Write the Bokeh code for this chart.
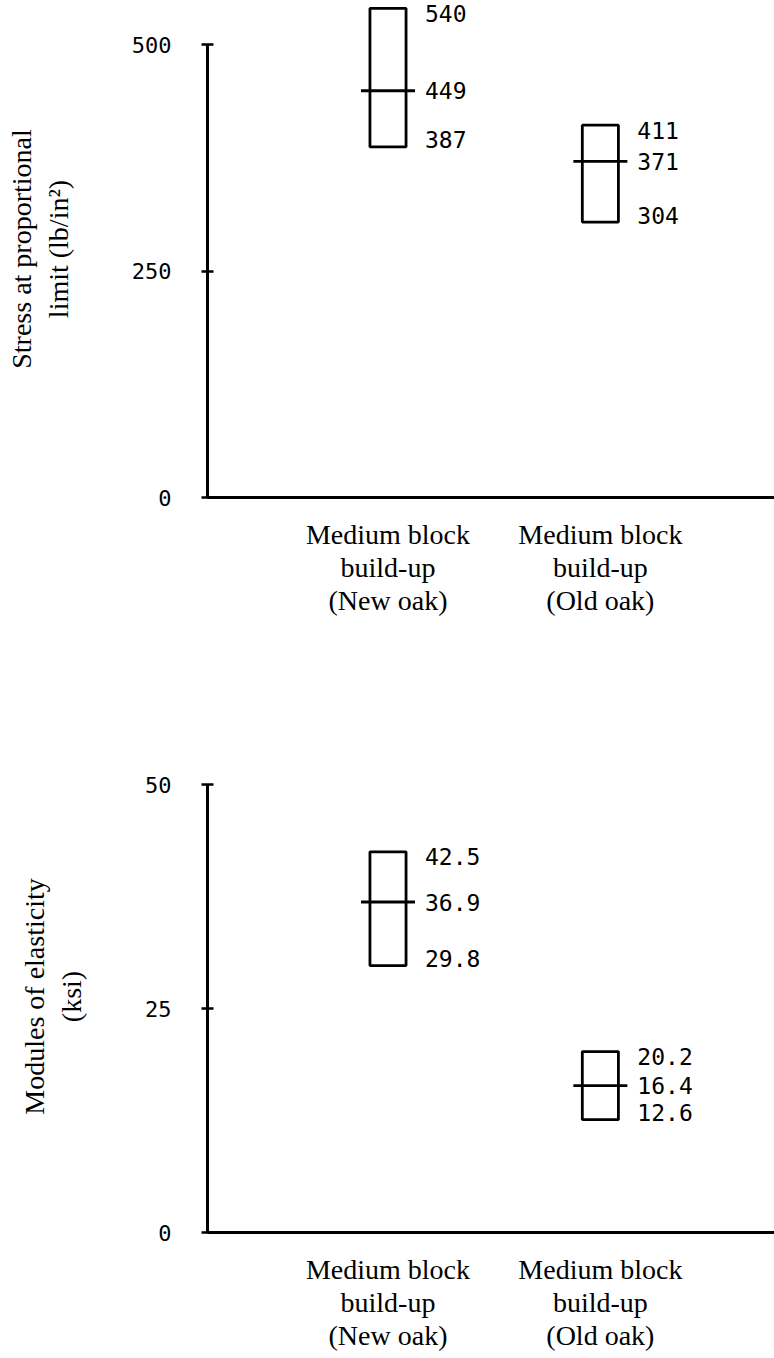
from bokeh.plotting import figure
from bokeh.layouts import column
from bokeh.models import Range1d, FixedTicker
from bokeh.core.properties import value
from bokeh.embed import file_html
from bokeh.resources import INLINE

# ---- data ----
categories = ["Medium block\nbuild-up\n(New oak)", "Medium block\nbuild-up\n(Old oak)"]
positions = [1, 2]

stress_high = [540, 411]
stress_mean = [449, 371]
stress_low = [387, 304]
stress_ticks = [0, 250, 500]

moe_high = [42.5, 20.2]
moe_mean = [36.9, 16.4]
moe_low = [29.8, 12.6]
moe_ticks = [0, 25, 50]

SERIF = "Liberation Serif"
MONO = "DejaVu Sans Mono"


def panel(height, ymax, ticks, high, mean, low, fmt, ylabel, border_top, border_bottom):
    p = figure(width=774, height=height,
               x_range=Range1d(0.15, 2.82), y_range=Range1d(0, ymax),
               output_backend="svg", toolbar_location=None,
               min_border_left=207, min_border_right=0,
               min_border_top=border_top, min_border_bottom=border_bottom)
    p.outline_line_color = None
    p.grid.visible = False
    p.background_fill_color = "white"
    p.border_fill_color = "white"

    # boxes
    p.vbar(x=positions, width=0.17, top=high, bottom=low,
           fill_color=None, line_color="black", line_width=2.8)
    # mean marks
    p.dash(x=positions, y=mean, size=54, line_color="black", line_width=2.8)

    # value labels
    for vals, yoff in ((high, 5), (mean, 0), (low, -7)):
        p.text(x=positions, y=vals, text=[fmt(v) for v in vals],
               x_offset=37, y_offset=yoff, text_align="left", text_baseline="middle",
               text_font=value(MONO), text_font_size="23px", text_color="black")

    # y axis
    ya = p.yaxis[0]
    ya.ticker = FixedTicker(ticks=ticks)
    ya.bounds = (ticks[0], ticks[-1])
    ya.axis_line_width = 3
    ya.major_tick_line_width = 2.5
    ya.major_tick_in = 6
    ya.major_tick_out = 6
    ya.minor_tick_line_color = None
    ya.major_label_text_font = MONO
    ya.major_label_text_font_size = "22px"
    ya.major_label_text_color = "black"
    ya.major_label_standoff = 30
    ya.axis_label = ylabel
    ya.axis_label_text_font = SERIF
    ya.axis_label_text_font_size = "28px"
    ya.axis_label_text_font_style = "normal"
    ya.axis_label_text_color = "black"
    ya.axis_label_standoff = 55

    # x axis
    xa = p.xaxis[0]
    xa.ticker = FixedTicker(ticks=positions)
    xa.major_label_overrides = {pos: lab for pos, lab in zip(positions, categories)}
    xa.major_tick_line_color = None
    xa.minor_tick_line_color = None
    xa.major_tick_out = 0
    xa.major_tick_in = 0
    xa.axis_line_width = 3
    xa.major_label_text_font = SERIF
    xa.major_label_text_font_size = "28px"
    xa.major_label_text_color = "black"
    xa.major_label_text_line_height = 1.08
    xa.major_label_standoff = 21
    return p


top = panel(680, 548.6, stress_ticks, stress_high, stress_mean, stress_low,
            lambda v: f"{v:d}", "Stress at proportional\nlimit (lb/in\u00b2)", 0, 183)
bottom = panel(678, 52.7, moe_ticks, moe_high, moe_mean, moe_low,
               lambda v: f"{v:.1f}", "Modules of elasticity\n(ksi)", 80, 126)

layout = column(top, bottom, spacing=0)
open("out.html", "w").write(file_html(layout, INLINE))
